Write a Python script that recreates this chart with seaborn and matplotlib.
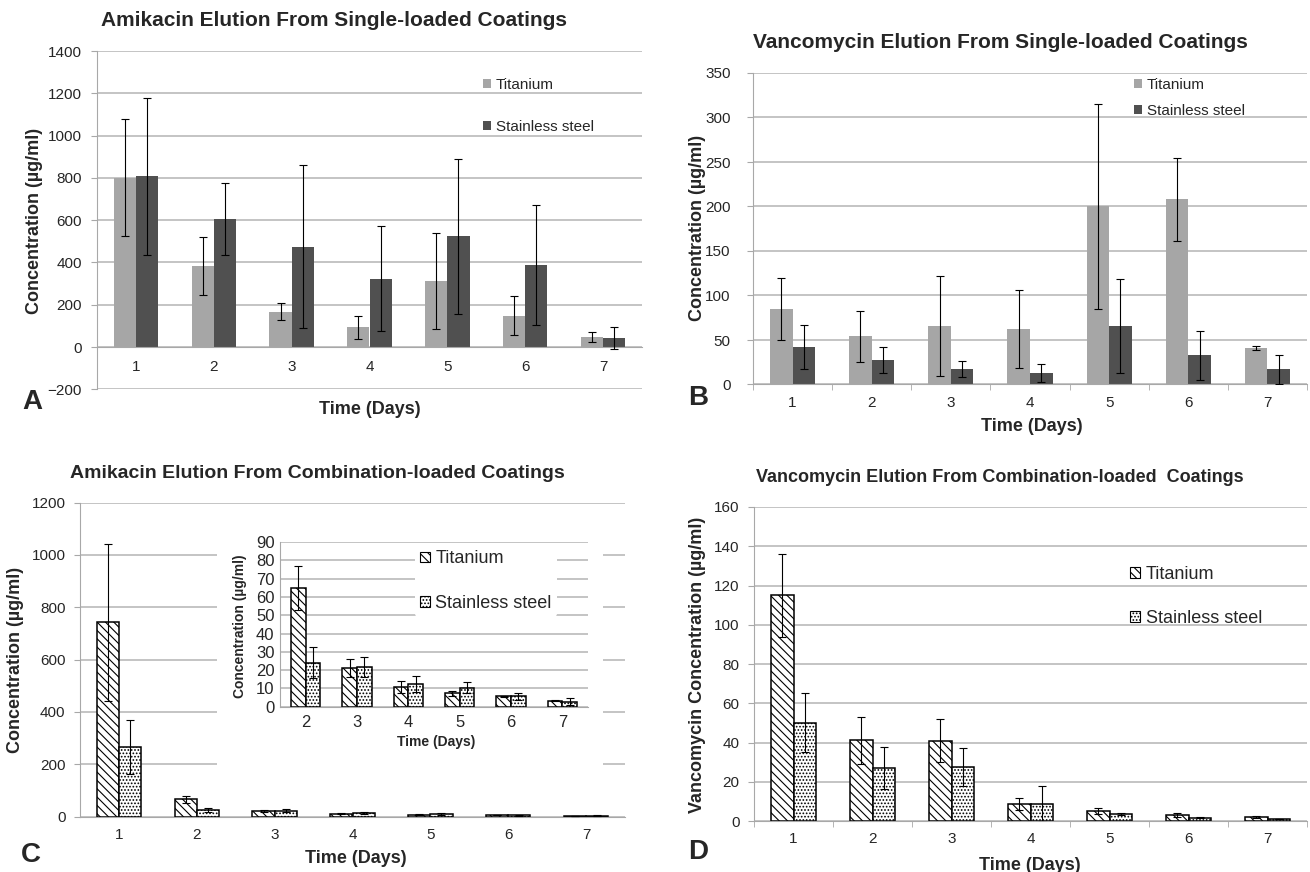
import pandas as pd
import matplotlib.pyplot as plt
import seaborn as sns
from matplotlib.patches import Patch, Rectangle
from matplotlib.ticker import MultipleLocator, FixedLocator, NullLocator

# data (mean and SD error bars)
days = ["1", "2", "3", "4", "5", "6", "7"]
materials = ["Titanium", "Stainless steel"]

amik_single_ti = [801, 382, 167, 93, 314, 147, 47]
amik_single_ti_sd = [276, 138, 41, 54, 227, 92, 24]
amik_single_ss = [807, 607, 475, 323, 524, 388, 41]
amik_single_ss_sd = [372, 171, 386, 247, 367, 286, 52]

vanc_single_ti = [85, 54, 65.5, 62, 200, 208, 41]
vanc_single_ti_sd = [35, 29, 56.5, 44, 115, 46.5, 2]
vanc_single_ss = [42, 27.5, 17, 13, 65.5, 33, 17]
vanc_single_ss_sd = [25, 14.5, 9, 10, 52.5, 27.5, 16.5]

amik_combo_ti = [743, 65, 21.2, 11, 7.3, 5.7, 3.3]
amik_combo_ti_sd = [300, 12, 5, 3.3, 1.5, 0.3, 0.3]
amik_combo_ss = [264, 24, 21.5, 12.4, 10.4, 5.6, 2.7]
amik_combo_ss_sd = [103, 8.5, 5.5, 4.5, 3, 2, 2]

vanc_combo_ti = [115, 41.2, 40.9, 8.7, 5.1, 2.9, 2.2]
vanc_combo_ti_sd = [21.2, 12, 11, 3, 1.4, 1, 0.6]
vanc_combo_ss = [50, 27, 27.3, 8.7, 3.6, 1.7, 1.0]
vanc_combo_ss_sd = [15, 10.6, 9.7, 9, 0.3, 0.3, 0.2]

SOLID = {"Titanium": "#A6A6A6", "Stainless steel": "#505050"}
HATCHES = ["\\\\\\\\", "....."]
GRID = "#B4B4B4"
SPINE = "#A8A8A8"

sns.set_style("white")
plt.rcParams["font.family"] = ["Liberation Sans", "DejaVu Sans"]
plt.rcParams["hatch.linewidth"] = 0.8

W, H = 1310, 872


def fx(x):
    return x / W


def fy(y):
    return 1 - y / H


def box(l, t, r, b):
    return [fx(l), fy(b), (r - l) / W, (b - t) / H]


def draw_bars(ax, cats, ti, ss, ti_sd, ss_sd, hatched):
    df = pd.DataFrame({
        "day": cats + cats,
        "material": [materials[0]] * len(cats) + [materials[1]] * len(cats),
        "conc": list(ti) + list(ss),
    })
    pal = {m: "white" for m in materials} if hatched else SOLID
    sns.barplot(data=df, x="day", y="conc", hue="material", hue_order=materials,
                order=cats, palette=pal, saturation=1, width=0.57,
                errorbar=None, legend=False, ax=ax)
    bars = list(ax.containers)
    for cont, sd, hatch in zip(bars, [ti_sd, ss_sd], HATCHES):
        for p in cont:
            if hatched:
                p.set_hatch(hatch)
                p.set_edgecolor("black")
                p.set_linewidth(1.1)
            else:
                p.set_linewidth(0)
        xs = [p.get_x() + p.get_width() / 2 for p in cont]
        ys = [p.get_height() for p in cont]
        ax.errorbar(xs, ys, yerr=sd, fmt="none", ecolor="black",
                    elinewidth=0.8, capsize=3, capthick=0.8, zorder=3)


def style_axes(ax, lo, hi, step, ypad, xpad, boundary_ticks, fs=11):
    ax.set_ylim(lo, hi)
    ax.yaxis.set_major_locator(MultipleLocator(step))
    ax.set_xlabel("")
    ax.set_ylabel("")
    ax.yaxis.grid(True, color=GRID, lw=1.1)
    ax.set_axisbelow(True)
    for s in ["top", "right"]:
        ax.spines[s].set_visible(False)
    ax.spines["left"].set_color(SPINE)
    ax.spines["bottom"].set_color(SPINE)
    ax.spines["bottom"].set_position(("data", 0))
    ax.tick_params(axis="y", length=4, color=SPINE, pad=ypad, labelsize=fs,
                   left=True, direction="out")
    ax.tick_params(axis="x", which="major", length=0, pad=xpad, labelsize=fs)
    n = len(ax.get_xticks())
    if boundary_ticks:
        ax.xaxis.set_minor_locator(FixedLocator([i - 0.5 for i in range(n + 1)]))
        ax.tick_params(axis="x", which="minor", length=4, color=SPINE,
                       bottom=True, direction="out")
    else:
        ax.xaxis.set_minor_locator(NullLocator())
    ax.set_xlim(-0.5, n - 0.5)


def add_legend(ax, x, y, hatched, fs, spacing, hsize, frame=False):
    if hatched:
        handles = [Patch(facecolor="white", edgecolor="black", hatch=h, lw=0.8, label=m)
                   for m, h in zip(materials, HATCHES)]
    else:
        handles = [Patch(facecolor=SOLID[m], lw=0, label=m) for m in materials]
    fs_px = fs * 100 / 72
    pad = 0.3 if frame else 0
    leg = ax.legend(handles=handles, loc="center left",
                    bbox_to_anchor=(fx(x - pad * fs_px), fy(y)),
                    bbox_transform=fig.transFigure, fontsize=fs,
                    handlelength=hsize, handleheight=hsize, handletextpad=0.3,
                    labelspacing=spacing / fs_px - 1.15, borderpad=pad,
                    borderaxespad=0, frameon=frame)
    if frame:
        leg.get_frame().set_facecolor("white")
        leg.get_frame().set_edgecolor("none")
        leg.get_frame().set_alpha(1)
    return leg


fig = plt.figure(figsize=(13.1, 8.72), dpi=100)
axA = fig.add_axes(box(97, 51, 642, 389.3))
axB = fig.add_axes(box(753, 73, 1307, 384.5))
axC = fig.add_axes(box(80, 502.5, 625, 816.5))
axD = fig.add_axes(box(754, 507, 1307, 821))
axI = fig.add_axes(box(280, 542, 588, 706.7))
axC.set_zorder(1)
axI.set_zorder(3)

# A
draw_bars(axA, days, amik_single_ti, amik_single_ss, amik_single_ti_sd, amik_single_ss_sd, False)
style_axes(axA, -200, 1400, 200, 7, 9, False)
add_legend(axA, 483, 106, False, 11, 46, 0.55)

# B
draw_bars(axB, days, vanc_single_ti, vanc_single_ss, vanc_single_ti_sd, vanc_single_ss_sd, False)
style_axes(axB, 0, 350, 50, 12, 8, True)
add_legend(axB, 1134, 98, False, 11, 30, 0.55)

# C
draw_bars(axC, days, amik_combo_ti, amik_combo_ss, amik_combo_ti_sd, amik_combo_ss_sd, True)
style_axes(axC, 0, 1200, 200, 6.5, 8, False)

# inset of C (days 2-7)
draw_bars(axI, days[1:], amik_combo_ti[1:], amik_combo_ss[1:],
          amik_combo_ti_sd[1:], amik_combo_ss_sd[1:], True)
style_axes(axI, 0, 90, 10, 4, 6, False, fs=12)
axI.tick_params(axis="y", length=0)
axI.patch.set_alpha(0)
add_legend(axI, 420, 581, True, 13, 48, 0.55, frame=True)

# white backing behind the inset
fig.patches.append(Rectangle((fx(217), fy(772)), (603 - 217) / W, (772 - 535) / H,
                             transform=fig.transFigure, facecolor="white",
                             edgecolor="none", zorder=2))

# D
draw_bars(axD, days, vanc_combo_ti, vanc_combo_ss, vanc_combo_ti_sd, vanc_combo_ss_sd, True)
style_axes(axD, 0, 160, 20, 6.5, 8, True)
add_legend(axD, 1130, 596.5, True, 13, 48, 0.58)

# titles
fig.text(fx(334), fy(21), "Amikacin Elution From Single-loaded Coatings",
         ha="center", va="center", fontsize=15, fontweight="bold")
fig.text(fx(1000), fy(43), "Vancomycin Elution From Single-loaded Coatings",
         ha="center", va="center", fontsize=15, fontweight="bold")
fig.text(fx(317), fy(473), "Amikacin Elution From Combination-loaded Coatings",
         ha="center", va="center", fontsize=14, fontweight="bold")
fig.text(fx(1000), fy(477), "Vancomycin Elution From Combination-loaded  Coatings",
         ha="center", va="center", fontsize=13, fontweight="bold")

# axis labels
ylab = "Concentration (µg/ml)"
fig.text(fx(35), fy(221), ylab, rotation=90, ha="center", va="center", fontsize=13, fontweight="bold")
fig.text(fx(697), fy(228), ylab, rotation=90, ha="center", va="center", fontsize=13, fontweight="bold")
fig.text(fx(16), fy(660), ylab, rotation=90, ha="center", va="center", fontsize=13, fontweight="bold")
fig.text(fx(697), fy(665), "Vancomycin Concentration (µg/ml)", rotation=90,
         ha="center", va="center", fontsize=13, fontweight="bold")
fig.text(fx(240), fy(626), ylab, rotation=90, ha="center", va="center", fontsize=10,
         fontweight="bold", zorder=4)

for x, y in [(370, 409), (1032, 426), (356, 858), (1030, 865)]:
    fig.text(fx(x), fy(y), "Time (Days)", ha="center", va="center", fontsize=13, fontweight="bold")
fig.text(fx(436), fy(742), "Time (Days)", ha="center", va="center", fontsize=10,
         fontweight="bold", zorder=4)

# panel letters
for x, y, s in [(32, 402, "A"), (698, 398, "B"), (31, 855, "C"), (698, 852, "D")]:
    fig.text(fx(x), fy(y), s, ha="center", va="center", fontsize=20, fontweight="bold")

fig.savefig("out.png", dpi=100)
